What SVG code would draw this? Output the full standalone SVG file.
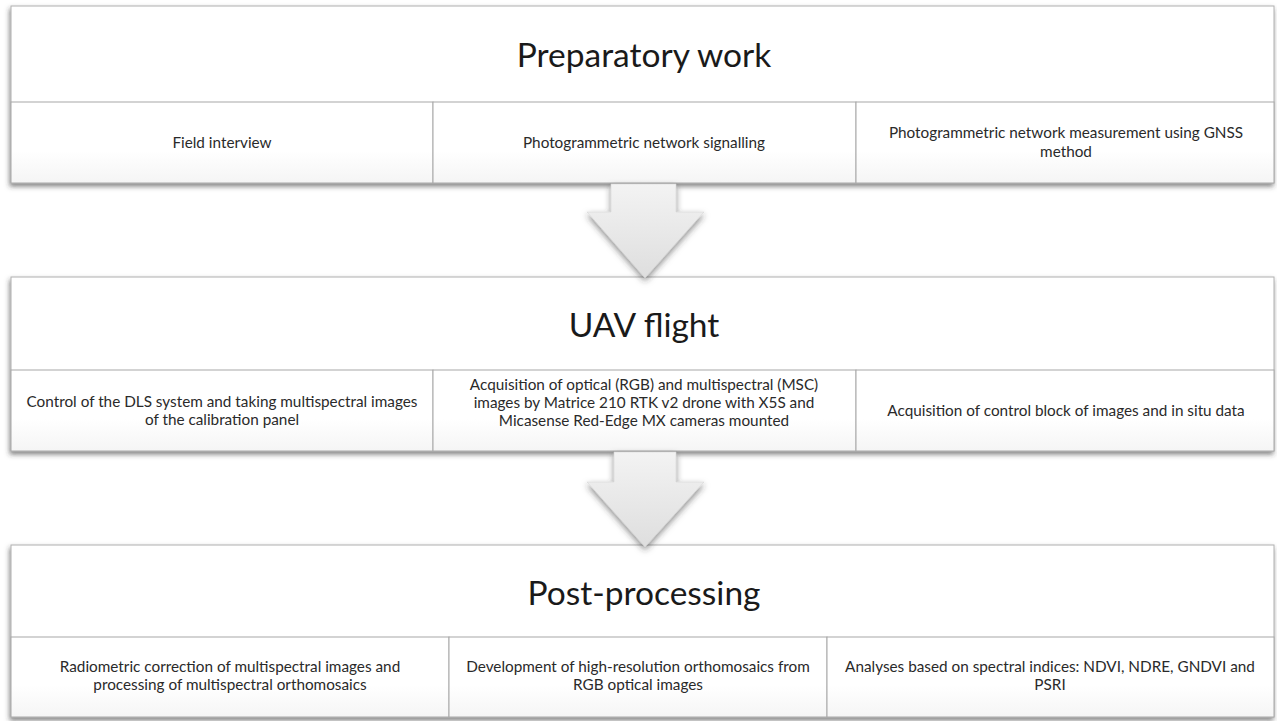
<svg xmlns="http://www.w3.org/2000/svg" width="1277" height="721" viewBox="0 0 1277 721">
<defs>
<filter id="sh" x="-5%" y="-10%" width="110%" height="130%">
<feDropShadow dx="-1" dy="3" stdDeviation="2.5" flood-color="#333" flood-opacity="0.6"/>
</filter>
<filter id="ash" x="-30%" y="-20%" width="160%" height="150%">
<feDropShadow dx="0" dy="3" stdDeviation="3" flood-color="#333" flood-opacity="0.55"/>
</filter>
<linearGradient id="cellg" x1="0" y1="0" x2="0" y2="1">
<stop offset="0" stop-color="#ffffff"/>
<stop offset="0.6" stop-color="#ffffff"/>
<stop offset="1" stop-color="#f5f5f5"/>
</linearGradient>
<linearGradient id="arrg" x1="0" y1="0" x2="0" y2="1">
<stop offset="0" stop-color="#f3f3f3"/>
<stop offset="1" stop-color="#dedede"/>
</linearGradient>
</defs>
<style>
.panel{fill:#ffffff;stroke:#b0b0b0;stroke-width:1}
.cell{fill:url(#cellg);stroke:#a8a8a8;stroke-width:1}
.title{font-family:Lato,"Liberation Sans",sans-serif;font-size:33.5px;fill:#1a1a1a;text-anchor:middle}
.txt{font-family:Lato,"Liberation Sans",sans-serif;font-size:15.3px;fill:#2a2a2a;text-anchor:middle}
.arrow{fill:url(#arrg);stroke:#d0d0d0;stroke-width:0.5}
</style>
<rect width="1277" height="721" fill="#ffffff"/>

<g id="preparatory">
<rect class="panel" x="11" y="6" width="1263" height="177" filter="url(#sh)"/>
<text class="title" x="644" y="67">Preparatory work</text>
<rect class="cell" x="11" y="102" width="422" height="81"/>
<rect class="cell" x="433" y="102" width="423" height="81"/>
<rect class="cell" x="856" y="102" width="418" height="81"/>
<text class="txt" x="222" y="148">Field interview</text>
<text class="txt" x="644" y="148">Photogrammetric network signalling</text>
<text class="txt" x="1066" y="138">Photogrammetric network measurement using GNSS</text>
<text class="txt" x="1066" y="157">method</text>
</g>

<g id="uav">
<rect class="panel" x="11" y="277" width="1263" height="174" filter="url(#sh)"/>
<text class="title" x="644" y="337">UAV flight</text>
<rect class="cell" x="11" y="370" width="422" height="81"/>
<rect class="cell" x="433" y="370" width="423" height="81"/>
<rect class="cell" x="856" y="370" width="418" height="81"/>
<text class="txt" x="222" y="407">Control of the DLS system and taking multispectral images</text>
<text class="txt" x="222" y="425">of the calibration panel</text>
<text class="txt" x="644" y="390">Acquisition of optical (RGB) and multispectral (MSC)</text>
<text class="txt" x="644" y="408">images by Matrice 210 RTK v2 drone with X5S and</text>
<text class="txt" x="644" y="426">Micasense Red-Edge MX cameras mounted</text>
<text class="txt" x="1066" y="416">Acquisition of control block of images and in situ data</text>
</g>

<g id="postprocessing">
<rect class="panel" x="11" y="545" width="1263" height="172" filter="url(#sh)"/>
<text class="title" x="644" y="605">Post-processing</text>
<rect class="cell" x="11" y="637" width="438" height="80"/>
<rect class="cell" x="449" y="637" width="378" height="80"/>
<rect class="cell" x="827" y="637" width="447" height="80"/>
<text class="txt" x="230" y="672">Radiometric correction of multispectral images and</text>
<text class="txt" x="230" y="690">processing of multispectral orthomosaics</text>
<text class="txt" x="638" y="672">Development of high-resolution orthomosaics from</text>
<text class="txt" x="638" y="690">RGB optical images</text>
<text class="txt" x="1050" y="672">Analyses based on spectral indices: NDVI, NDRE, GNDVI and</text>
<text class="txt" x="1050" y="690">PSRI</text>
</g>

<g id="connectors">
<path class="arrow" filter="url(#ash)" d="M611,184 L676,184 L676,212 L704,212 L645,278 L587,212 L611,212 Z"/>
<path class="arrow" filter="url(#ash)" d="M614,452 L676,452 L676,482 L704,482 L645,547 L587,482 L614,482 Z"/>
</g>
</svg>
